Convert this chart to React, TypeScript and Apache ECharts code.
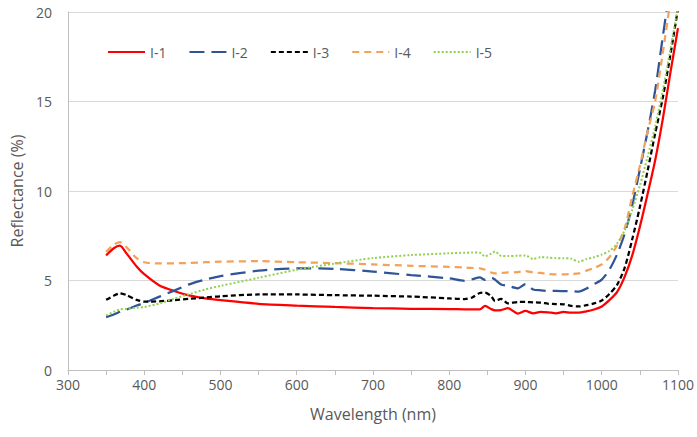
import React, { useEffect, useRef } from "react";
import * as echarts from "echarts";

const wavelengths = [350, 360, 368, 377, 390, 400, 420, 440, 460, 480, 500, 550, 600, 650, 700, 750, 800, 820, 830, 840, 847, 855, 860, 868, 877, 890, 900, 910, 920, 930, 940, 950, 960, 970, 980, 990, 1000, 1010, 1020, 1030, 1040, 1050, 1060, 1070, 1080, 1090, 1100];

const seriesNames = ["I-1", "I-2", "I-3", "I-4", "I-5"];

const i1 = [6.4, 6.8, 6.95, 6.5, 5.78, 5.35, 4.72, 4.4, 4.15, 4.0, 3.9, 3.7, 3.6, 3.52, 3.46, 3.42, 3.4, 3.39, 3.38, 3.38, 3.58, 3.4, 3.33, 3.35, 3.45, 3.15, 3.3, 3.17, 3.25, 3.22, 3.17, 3.25, 3.2, 3.2, 3.28, 3.38, 3.55, 3.9, 4.35, 5.2, 6.4, 8.0, 9.8, 11.7, 14.0, 16.6, 19.1];
const i2 = [2.95, 3.1, 3.25, 3.38, 3.6, 3.75, 4.1, 4.45, 4.8, 5.05, 5.25, 5.55, 5.68, 5.65, 5.5, 5.3, 5.12, 4.98, 5.07, 5.17, 5.03, 5.16, 5.05, 4.78, 4.7, 4.56, 4.8, 4.5, 4.45, 4.42, 4.42, 4.41, 4.4, 4.38, 4.55, 4.8, 5.05, 5.6, 6.45, 7.6, 9.2, 11.2, 13.3, 15.6, 18.6, 21.5, 24.0];
const i3 = [3.92, 4.15, 4.28, 4.18, 3.92, 3.82, 3.84, 3.9, 3.98, 4.05, 4.12, 4.22, 4.22, 4.18, 4.15, 4.1, 4.0, 3.96, 4.05, 4.3, 4.32, 4.12, 3.85, 3.97, 3.72, 3.8, 3.8, 3.78, 3.76, 3.7, 3.68, 3.67, 3.58, 3.55, 3.62, 3.72, 3.88, 4.25, 4.75, 5.7, 7.3, 9.1, 11.1, 13.2, 15.2, 17.6, 20.2];
const i4 = [6.6, 7.0, 7.15, 6.85, 6.25, 6.02, 5.95, 5.96, 5.98, 6.02, 6.05, 6.08, 6.02, 5.97, 5.9, 5.82, 5.76, 5.72, 5.7, 5.68, 5.6, 5.45, 5.4, 5.42, 5.45, 5.47, 5.52, 5.45, 5.42, 5.36, 5.34, 5.34, 5.36, 5.4, 5.55, 5.7, 5.9, 6.3, 6.95, 7.9, 9.7, 11.4, 13.3, 15.0, 17.7, 20.6, 23.5];
const i5 = [3.05, 3.25, 3.38, 3.42, 3.48, 3.52, 3.72, 4.0, 4.25, 4.5, 4.7, 5.15, 5.6, 5.95, 6.25, 6.42, 6.52, 6.55, 6.56, 6.55, 6.35, 6.5, 6.62, 6.38, 6.37, 6.38, 6.4, 6.2, 6.3, 6.28, 6.25, 6.25, 6.22, 6.05, 6.2, 6.3, 6.45, 6.65, 7.05, 7.8, 8.95, 10.3, 11.9, 13.6, 15.6, 17.9, 20.3];

const seriesValues = [i1, i2, i3, i4, i5];
const colors = ["#FF0000", "#2F5597", "#000000", "#F4A15A", "#92D050"];
const dashTypes: any[] = ["solid", [15, 7], [5, 3], [7, 5], [2, 2]];
const widths = [2.25, 2.25, 2.25, 2.25, 2];

const FONT = "'Open Sans', sans-serif";

export default function App() {
  const ref = useRef<HTMLDivElement>(null);
  useEffect(() => {
    if (!ref.current) return;
    const chart = echarts.init(ref.current, undefined, { renderer: "svg" });
    chart.setOption({
      animation: false,
      backgroundColor: "#ffffff",
      grid: { left: 68, right: 19, top: 12, bottom: 67, containLabel: false },
      legend: {
        left: 102,
        top: 40,
        itemWidth: 37,
        itemHeight: 14,
        itemGap: 22,
        itemStyle: { color: "transparent", borderWidth: 0, opacity: 0 },
        textStyle: { color: "#595959", fontSize: 14, fontFamily: FONT },
        data: seriesNames,
      },
      xAxis: {
        type: "value",
        min: 300,
        max: 1100,
        interval: 50,
        name: "Wavelength (nm)",
        nameLocation: "middle",
        nameGap: 36,
        nameTextStyle: { color: "#595959", fontSize: 16, fontFamily: FONT },
        axisLine: { show: true, lineStyle: { color: "#BFBFBF", width: 1 } },
        axisTick: { show: true, length: 5, lineStyle: { color: "#BFBFBF" } },
        axisLabel: {
          color: "#595959",
          fontSize: 14,
          fontFamily: FONT,
          margin: 7,
          formatter: (v: number) => (v % 100 === 0 ? String(v) : ""),
        },
        splitLine: { show: false },
      },
      yAxis: {
        type: "value",
        min: 0,
        max: 20,
        interval: 5,
        name: "Reflectance (%)",
        nameLocation: "middle",
        nameGap: 42,
        nameTextStyle: { color: "#595959", fontSize: 16, fontFamily: FONT },
        axisLine: { show: true, lineStyle: { color: "#BFBFBF", width: 1 } },
        axisTick: { show: false },
        axisLabel: { color: "#595959", fontSize: 14, fontFamily: FONT, margin: 16 },
        splitLine: { show: true, lineStyle: { color: "#D9D9D9", width: 1 } },
      },
      series: seriesNames.map((name, k) => ({
        name,
        type: "line",
        data: wavelengths.map((w, i) => [w, seriesValues[k][i]]),
        showSymbol: false,
        symbol: "none",
        smooth: 0.25,
        clip: true,
        itemStyle: { color: colors[k] },
        lineStyle: { color: colors[k], width: widths[k], type: dashTypes[k] },
      })),
    });
    return () => chart.dispose();
  }, []);
  return <div ref={ref} style={{ width: 697, height: 437, position: "absolute", left: 0, top: 0 }} />;
}
